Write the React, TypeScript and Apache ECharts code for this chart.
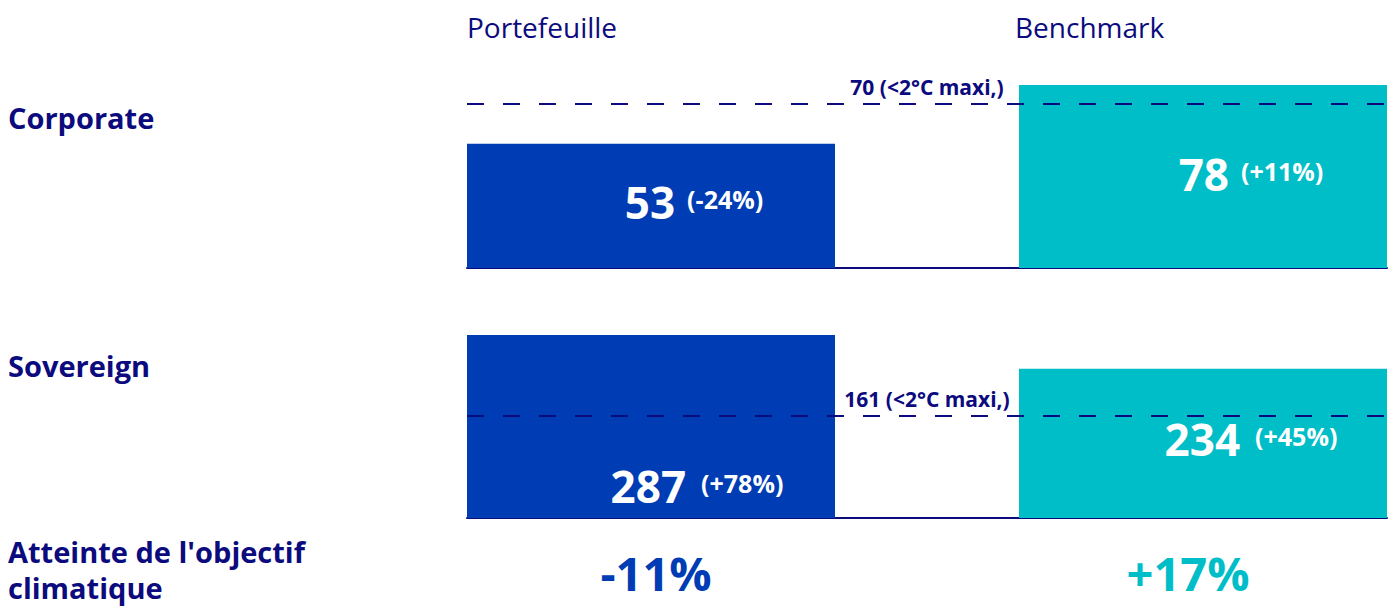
import React, { useEffect, useRef } from "react";
import * as echarts from "echarts";

const columns = ["Portefeuille", "Benchmark"];
const rowNames = ["Corporate", "Sovereign"];
const corporateValues = [53, 78];
const corporateChanges = ["(-24%)", "(+11%)"];
const sovereignValues = [287, 234];
const sovereignChanges = ["(+78%)", "(+45%)"];
const thresholds = [70, 161];
const thresholdLabels = ["70 (<2°C maxi,)", "161 (<2°C maxi,)"];
const objectiveLabel = ["Atteinte de l'objectif", "climatique"];
const objectiveValues = ["-11%", "+17%"];

const NAVY = "#0B0B7E";
const BLUE = "#003CB4";
const TEAL = "#00BEC8";
const FONT = "'Open Sans', 'Noto Sans', sans-serif";

export default function App() {
  const ref = useRef<HTMLDivElement>(null);
  useEffect(() => {
    if (!ref.current) return;
    const chart = echarts.init(ref.current, undefined, { renderer: "svg" });
    const colors = [BLUE, TEAL];
    const xPos = [1, 4];
    const makeSeries = (
      idx: number,
      values: number[],
      changes: string[],
      offsets: number[][],
      gaps: number[]
    ) => ({
      type: "bar",
      xAxisIndex: idx,
      yAxisIndex: idx,
      barWidth: 368,
      data: values.map((v, i) => ({
        value: [xPos[i], v],
        itemStyle: { color: colors[i] },
        label: {
          show: true,
          position: "inside",
          offset: offsets[i],
          formatter: `{a|${v}}{b|${changes[i]}}`,
          rich: {
            a: { fontSize: 44, fontWeight: "bold", color: "#fff", fontFamily: FONT },
            b: { fontSize: 25, fontWeight: "bold", color: "#fff", fontFamily: FONT, padding: [0, 0, 6, gaps[i]] },
          },
        },
      })),
      markLine: {
        silent: true,
        symbol: "none",
        lineStyle: { color: NAVY, width: 2, type: [17, 19] },
        label: {
          show: true,
          position: "insideMiddleTop",
          formatter: thresholdLabels[idx],
          color: NAVY,
          fontSize: 21,
          fontWeight: "bold",
          fontFamily: FONT,
          distance: 6,
        },
        data: [{ yAxis: thresholds[idx] }],
      },
    });
    const xAxis = (idx: number) => ({
      type: "value",
      gridIndex: idx,
      min: 0,
      max: 5,
      axisLine: { show: true, onZero: false, lineStyle: { color: NAVY, width: 2 } },
      axisTick: { show: false },
      axisLabel: { show: false },
      splitLine: { show: false },
    });
    const yAxis = (idx: number, max: number) => ({
      type: "value",
      gridIndex: idx,
      min: 0,
      max,
      show: false,
      splitLine: { show: false },
    });
    const txt = (
      text: string,
      x: number,
      y: number,
      size: number,
      color: string,
      weight: string,
      align = "left",
      lineHeight = size
    ) => ({
      type: "text",
      x,
      y,
      style: {
        text,
        fill: color,
        fontSize: size,
        lineHeight,
        fontWeight: weight,
        fontFamily: FONT,
        textAlign: align,
        textVerticalAlign: "middle",
      },
    });
    chart.setOption({
      animation: false,
      grid: [
        { left: 467, right: 4, top: 85, height: 183 },
        { left: 467, right: 4, top: 335, height: 183 },
      ],
      xAxis: [xAxis(0), xAxis(1)],
      yAxis: [yAxis(0, Math.max(...corporateValues)), yAxis(1, Math.max(...sovereignValues))],
      series: [
        makeSeries(0, corporateValues, corporateChanges, [[43, -4], [48, -3]], [12, 12]),
        makeSeries(1, sovereignValues, sovereignChanges, [[46, 59], [48, -4]], [15, 15]),
      ],
      graphic: [
        txt(columns[0], 467, 27, 28, NAVY, "normal"),
        txt(columns[1], 1015, 27, 28, NAVY, "normal"),
        txt(rowNames[0], 8, 117, 29, NAVY, "bold"),
        txt(rowNames[1], 8, 365, 29, NAVY, "bold"),
        txt(objectiveLabel.join("\n"), 8, 569, 29, NAVY, "bold", "left", 36),
        txt(objectiveValues[0], 656, 573, 47, BLUE, "bold", "center"),
        txt(objectiveValues[1], 1188, 573, 47, TEAL, "bold", "center"),
      ],
    });
    return () => chart.dispose();
  }, []);
  return (
    <div
      ref={ref}
      style={{ position: "fixed", left: 0, top: 0, width: 1391, height: 607, background: "#fff" }}
    />
  );
}
